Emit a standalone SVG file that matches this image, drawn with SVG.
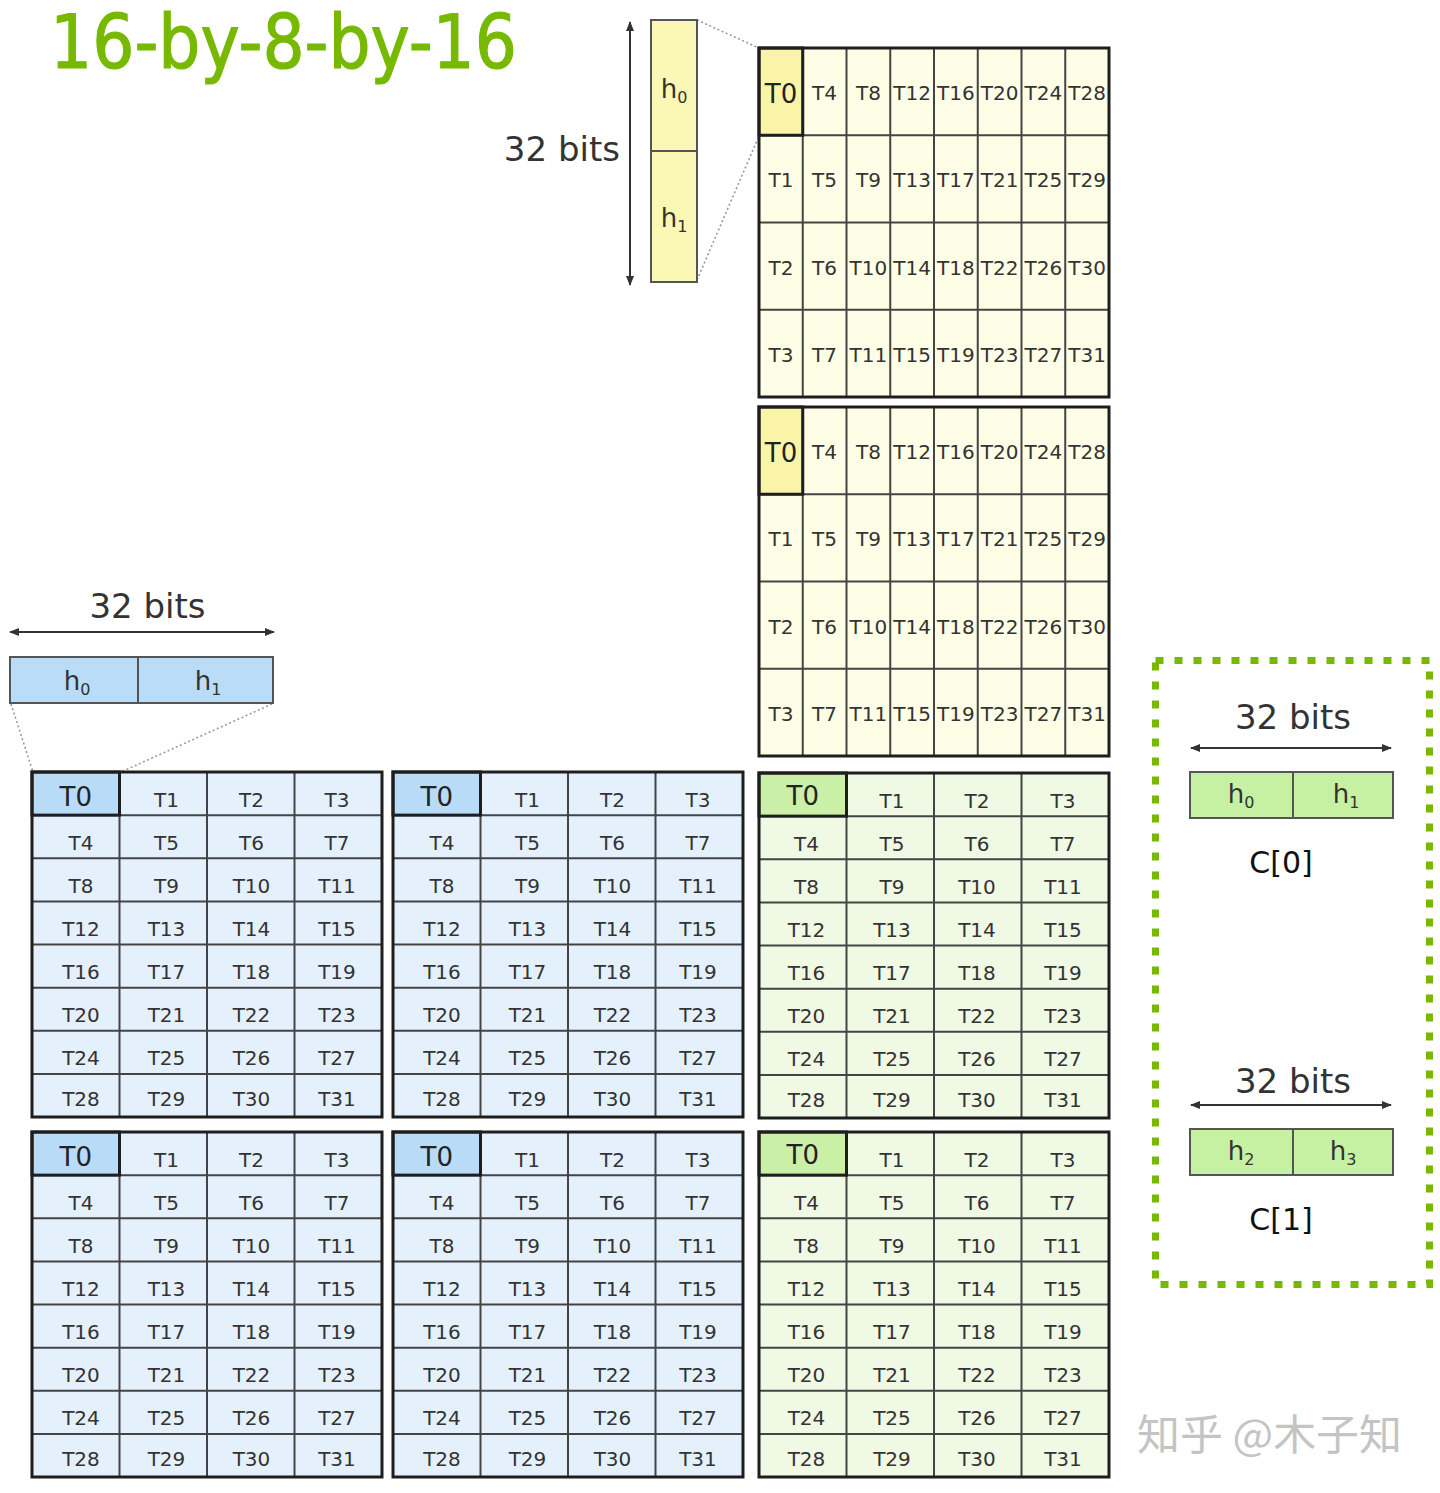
<svg xmlns="http://www.w3.org/2000/svg" xmlns:xlink="http://www.w3.org/1999/xlink" width="1440" height="1493" viewBox="0 0 1440 1493">
<style>
text{font-family:"DejaVu Sans","Liberation Sans",sans-serif;fill:#333}
.t{font-size:20px;text-anchor:middle}
.t0{font-size:26px;text-anchor:middle;fill:#222}
.lbl{font-size:34px}
.h{font-size:26px;text-anchor:middle}
.sub{font-size:16px}
.c{font-size:30px;text-anchor:middle;fill:#111}
.title{font-size:74px;fill:#76b900;stroke:#76b900;stroke-width:1.2}
.wm{font-family:"Noto Sans CJK SC","DejaVu Sans",sans-serif;font-size:42px;fill:#c4c4c4}
.inner{fill:none;stroke:#444;stroke-width:2}
.outer{fill:none;stroke:#1e1e1e;stroke-width:3}
.hiB{fill:none;stroke:#1e1e1e;stroke-width:3}
.by{fill:#fefee6}.hy{fill:#faf4a8}
.bb{fill:#e4f1fc}.hb{fill:#b8dbf7}
.bg{fill:#eff9e4}.hg{fill:#c9f0a6}
.vec{stroke:#555;stroke-width:2}
.dim{stroke:#333;stroke-width:2;fill:none}
.dot{stroke:#9a9a9a;stroke-width:1.6;stroke-dasharray:2 2.5;fill:none}
</style>
<defs>
<marker id="ah" viewBox="0 0 10 8" refX="9" refY="4" markerWidth="10" markerHeight="8" markerUnits="userSpaceOnUse" orient="auto-start-reverse">
<path d="M0,0 L10,4 L0,8 z" fill="#333"/>
</marker>
<path id="ylines" class="inner" d="M43.75,0V349M87.5,0V349M131.25,0V349M175,0V349M218.75,0V349M262.5,0V349M306.25,0V349M0,87.25H350M0,174.5H350M0,261.75H350"/>
<path id="glines" class="inner" d="M87.5,0V345M175,0V345M262.5,0V345M0,43.125H350M0,86.25H350M0,129.375H350M0,172.5H350M0,215.625H350M0,258.75H350M0,301.875H350"/>
</defs>
<rect width="1440" height="1493" fill="#ffffff"/>

<g id="title"><text class="title" x="50" y="68" textLength="467" lengthAdjust="spacingAndGlyphs">16-by-8-by-16</text></g>

<g id="connectors">
<line class="dim" x1="630" y1="22" x2="630" y2="285" marker-start="url(#ah)" marker-end="url(#ah)"/>
<line class="dim" x1="10" y1="632" x2="274" y2="632" marker-start="url(#ah)" marker-end="url(#ah)"/>
<line class="dim" x1="1191" y1="748" x2="1391" y2="748" marker-start="url(#ah)" marker-end="url(#ah)"/>
<line class="dim" x1="1191" y1="1105" x2="1391" y2="1105" marker-start="url(#ah)" marker-end="url(#ah)"/>
<line class="dot" x1="697" y1="20" x2="759" y2="48"/>
<line class="dot" x1="697" y1="280" x2="759" y2="136"/>
<line class="dot" x1="11" y1="704" x2="33" y2="772"/>
<line class="dot" x1="272" y1="704" x2="121" y2="772"/>
</g>

<g id="yellow-vector">
<rect x="651" y="20" width="46" height="262" fill="#fbf7b4" class="vec"/>
<line x1="651" y1="151" x2="697" y2="151" class="vec"/>
<text class="h" x="674" y="98">h<tspan class="sub" dy="5">0</tspan></text>
<text class="h" x="674" y="227">h<tspan class="sub" dy="5">1</tspan></text>
<text class="lbl" x="620" y="161" text-anchor="end">32 bits</text>
</g>

<g id="yellow-grid-1" transform="translate(759,48)">
<rect class="by" width="350" height="349"/>
<rect class="hy" width="43.75" height="87.25"/>
<use xlink:href="#ylines"/>
<rect class="hiB" width="43.75" height="87.25"/>
<rect class="outer" width="350" height="349"/>
<text class="t0" x="22" y="55">T0</text><text class="t" x="65.6" y="52">T4</text><text class="t" x="109.4" y="52">T8</text><text class="t" x="153.1" y="52">T12</text><text class="t" x="196.9" y="52">T16</text><text class="t" x="240.6" y="52">T20</text><text class="t" x="284.4" y="52">T24</text><text class="t" x="328.1" y="52">T28</text>
<text class="t" x="21.9" y="139">T1</text><text class="t" x="65.6" y="139">T5</text><text class="t" x="109.4" y="139">T9</text><text class="t" x="153.1" y="139">T13</text><text class="t" x="196.9" y="139">T17</text><text class="t" x="240.6" y="139">T21</text><text class="t" x="284.4" y="139">T25</text><text class="t" x="328.1" y="139">T29</text>
<text class="t" x="21.9" y="226.5">T2</text><text class="t" x="65.6" y="226.5">T6</text><text class="t" x="109.4" y="226.5">T10</text><text class="t" x="153.1" y="226.5">T14</text><text class="t" x="196.9" y="226.5">T18</text><text class="t" x="240.6" y="226.5">T22</text><text class="t" x="284.4" y="226.5">T26</text><text class="t" x="328.1" y="226.5">T30</text>
<text class="t" x="21.9" y="313.7">T3</text><text class="t" x="65.6" y="313.7">T7</text><text class="t" x="109.4" y="313.7">T11</text><text class="t" x="153.1" y="313.7">T15</text><text class="t" x="196.9" y="313.7">T19</text><text class="t" x="240.6" y="313.7">T23</text><text class="t" x="284.4" y="313.7">T27</text><text class="t" x="328.1" y="313.7">T31</text>
</g>

<g id="yellow-grid-2" transform="translate(759,407)">
<rect class="by" width="350" height="349"/>
<rect class="hy" width="43.75" height="87.25"/>
<use xlink:href="#ylines"/>
<rect class="hiB" width="43.75" height="87.25"/>
<rect class="outer" width="350" height="349"/>
<text class="t0" x="22" y="55">T0</text><text class="t" x="65.6" y="52">T4</text><text class="t" x="109.4" y="52">T8</text><text class="t" x="153.1" y="52">T12</text><text class="t" x="196.9" y="52">T16</text><text class="t" x="240.6" y="52">T20</text><text class="t" x="284.4" y="52">T24</text><text class="t" x="328.1" y="52">T28</text>
<text class="t" x="21.9" y="139">T1</text><text class="t" x="65.6" y="139">T5</text><text class="t" x="109.4" y="139">T9</text><text class="t" x="153.1" y="139">T13</text><text class="t" x="196.9" y="139">T17</text><text class="t" x="240.6" y="139">T21</text><text class="t" x="284.4" y="139">T25</text><text class="t" x="328.1" y="139">T29</text>
<text class="t" x="21.9" y="226.5">T2</text><text class="t" x="65.6" y="226.5">T6</text><text class="t" x="109.4" y="226.5">T10</text><text class="t" x="153.1" y="226.5">T14</text><text class="t" x="196.9" y="226.5">T18</text><text class="t" x="240.6" y="226.5">T22</text><text class="t" x="284.4" y="226.5">T26</text><text class="t" x="328.1" y="226.5">T30</text>
<text class="t" x="21.9" y="313.7">T3</text><text class="t" x="65.6" y="313.7">T7</text><text class="t" x="109.4" y="313.7">T11</text><text class="t" x="153.1" y="313.7">T15</text><text class="t" x="196.9" y="313.7">T19</text><text class="t" x="240.6" y="313.7">T23</text><text class="t" x="284.4" y="313.7">T27</text><text class="t" x="328.1" y="313.7">T31</text>
</g>

<g id="blue-vector">
<rect x="10" y="657" width="263" height="46" fill="#badcf7" class="vec"/>
<line x1="138" y1="657" x2="138" y2="703" class="vec"/>
<text class="h" x="77" y="690">h<tspan class="sub" dy="5">0</tspan></text>
<text class="h" x="208" y="690">h<tspan class="sub" dy="5">1</tspan></text>
<text class="lbl" x="147.5" y="618" text-anchor="middle">32 bits</text>
</g>

<g id="blue-grid-1" transform="translate(32,772)">
<rect class="bb" width="350" height="345"/>
<rect class="hb" width="87.5" height="43.125"/>
<use xlink:href="#glines"/>
<rect class="hiB" width="87.5" height="43.125"/>
<rect class="outer" width="350" height="345"/>
<text class="t0" x="43.75" y="34">T0</text><text class="t" x="134.5" y="34.5">T1</text><text class="t" x="219.5" y="34.5">T2</text><text class="t" x="305" y="34.5">T3</text>
<text class="t" x="49" y="77.6">T4</text><text class="t" x="134.5" y="77.6">T5</text><text class="t" x="219.5" y="77.6">T6</text><text class="t" x="305" y="77.6">T7</text>
<text class="t" x="49" y="120.8">T8</text><text class="t" x="134.5" y="120.8">T9</text><text class="t" x="219.5" y="120.8">T10</text><text class="t" x="305" y="120.8">T11</text>
<text class="t" x="49" y="163.9">T12</text><text class="t" x="134.5" y="163.9">T13</text><text class="t" x="219.5" y="163.9">T14</text><text class="t" x="305" y="163.9">T15</text>
<text class="t" x="49" y="207">T16</text><text class="t" x="134.5" y="207">T17</text><text class="t" x="219.5" y="207">T18</text><text class="t" x="305" y="207">T19</text>
<text class="t" x="49" y="250.1">T20</text><text class="t" x="134.5" y="250.1">T21</text><text class="t" x="219.5" y="250.1">T22</text><text class="t" x="305" y="250.1">T23</text>
<text class="t" x="49" y="293.3">T24</text><text class="t" x="134.5" y="293.3">T25</text><text class="t" x="219.5" y="293.3">T26</text><text class="t" x="305" y="293.3">T27</text>
<text class="t" x="49" y="334">T28</text><text class="t" x="134.5" y="334">T29</text><text class="t" x="219.5" y="334">T30</text><text class="t" x="305" y="334">T31</text>
</g>

<g id="blue-grid-2" transform="translate(393,772)">
<rect class="bb" width="350" height="345"/>
<rect class="hb" width="87.5" height="43.125"/>
<use xlink:href="#glines"/>
<rect class="hiB" width="87.5" height="43.125"/>
<rect class="outer" width="350" height="345"/>
<text class="t0" x="43.75" y="34">T0</text><text class="t" x="134.5" y="34.5">T1</text><text class="t" x="219.5" y="34.5">T2</text><text class="t" x="305" y="34.5">T3</text>
<text class="t" x="49" y="77.6">T4</text><text class="t" x="134.5" y="77.6">T5</text><text class="t" x="219.5" y="77.6">T6</text><text class="t" x="305" y="77.6">T7</text>
<text class="t" x="49" y="120.8">T8</text><text class="t" x="134.5" y="120.8">T9</text><text class="t" x="219.5" y="120.8">T10</text><text class="t" x="305" y="120.8">T11</text>
<text class="t" x="49" y="163.9">T12</text><text class="t" x="134.5" y="163.9">T13</text><text class="t" x="219.5" y="163.9">T14</text><text class="t" x="305" y="163.9">T15</text>
<text class="t" x="49" y="207">T16</text><text class="t" x="134.5" y="207">T17</text><text class="t" x="219.5" y="207">T18</text><text class="t" x="305" y="207">T19</text>
<text class="t" x="49" y="250.1">T20</text><text class="t" x="134.5" y="250.1">T21</text><text class="t" x="219.5" y="250.1">T22</text><text class="t" x="305" y="250.1">T23</text>
<text class="t" x="49" y="293.3">T24</text><text class="t" x="134.5" y="293.3">T25</text><text class="t" x="219.5" y="293.3">T26</text><text class="t" x="305" y="293.3">T27</text>
<text class="t" x="49" y="334">T28</text><text class="t" x="134.5" y="334">T29</text><text class="t" x="219.5" y="334">T30</text><text class="t" x="305" y="334">T31</text>
</g>

<g id="blue-grid-3" transform="translate(32,1132)">
<rect class="bb" width="350" height="345"/>
<rect class="hb" width="87.5" height="43.125"/>
<use xlink:href="#glines"/>
<rect class="hiB" width="87.5" height="43.125"/>
<rect class="outer" width="350" height="345"/>
<text class="t0" x="43.75" y="34">T0</text><text class="t" x="134.5" y="34.5">T1</text><text class="t" x="219.5" y="34.5">T2</text><text class="t" x="305" y="34.5">T3</text>
<text class="t" x="49" y="77.6">T4</text><text class="t" x="134.5" y="77.6">T5</text><text class="t" x="219.5" y="77.6">T6</text><text class="t" x="305" y="77.6">T7</text>
<text class="t" x="49" y="120.8">T8</text><text class="t" x="134.5" y="120.8">T9</text><text class="t" x="219.5" y="120.8">T10</text><text class="t" x="305" y="120.8">T11</text>
<text class="t" x="49" y="163.9">T12</text><text class="t" x="134.5" y="163.9">T13</text><text class="t" x="219.5" y="163.9">T14</text><text class="t" x="305" y="163.9">T15</text>
<text class="t" x="49" y="207">T16</text><text class="t" x="134.5" y="207">T17</text><text class="t" x="219.5" y="207">T18</text><text class="t" x="305" y="207">T19</text>
<text class="t" x="49" y="250.1">T20</text><text class="t" x="134.5" y="250.1">T21</text><text class="t" x="219.5" y="250.1">T22</text><text class="t" x="305" y="250.1">T23</text>
<text class="t" x="49" y="293.3">T24</text><text class="t" x="134.5" y="293.3">T25</text><text class="t" x="219.5" y="293.3">T26</text><text class="t" x="305" y="293.3">T27</text>
<text class="t" x="49" y="334">T28</text><text class="t" x="134.5" y="334">T29</text><text class="t" x="219.5" y="334">T30</text><text class="t" x="305" y="334">T31</text>
</g>

<g id="blue-grid-4" transform="translate(393,1132)">
<rect class="bb" width="350" height="345"/>
<rect class="hb" width="87.5" height="43.125"/>
<use xlink:href="#glines"/>
<rect class="hiB" width="87.5" height="43.125"/>
<rect class="outer" width="350" height="345"/>
<text class="t0" x="43.75" y="34">T0</text><text class="t" x="134.5" y="34.5">T1</text><text class="t" x="219.5" y="34.5">T2</text><text class="t" x="305" y="34.5">T3</text>
<text class="t" x="49" y="77.6">T4</text><text class="t" x="134.5" y="77.6">T5</text><text class="t" x="219.5" y="77.6">T6</text><text class="t" x="305" y="77.6">T7</text>
<text class="t" x="49" y="120.8">T8</text><text class="t" x="134.5" y="120.8">T9</text><text class="t" x="219.5" y="120.8">T10</text><text class="t" x="305" y="120.8">T11</text>
<text class="t" x="49" y="163.9">T12</text><text class="t" x="134.5" y="163.9">T13</text><text class="t" x="219.5" y="163.9">T14</text><text class="t" x="305" y="163.9">T15</text>
<text class="t" x="49" y="207">T16</text><text class="t" x="134.5" y="207">T17</text><text class="t" x="219.5" y="207">T18</text><text class="t" x="305" y="207">T19</text>
<text class="t" x="49" y="250.1">T20</text><text class="t" x="134.5" y="250.1">T21</text><text class="t" x="219.5" y="250.1">T22</text><text class="t" x="305" y="250.1">T23</text>
<text class="t" x="49" y="293.3">T24</text><text class="t" x="134.5" y="293.3">T25</text><text class="t" x="219.5" y="293.3">T26</text><text class="t" x="305" y="293.3">T27</text>
<text class="t" x="49" y="334">T28</text><text class="t" x="134.5" y="334">T29</text><text class="t" x="219.5" y="334">T30</text><text class="t" x="305" y="334">T31</text>
</g>

<g id="green-grid-1" transform="translate(759,773)">
<rect class="bg" width="350" height="345"/>
<rect class="hg" width="87.5" height="43.125"/>
<use xlink:href="#glines"/>
<rect class="hiB" width="87.5" height="43.125"/>
<rect class="outer" width="350" height="345"/>
<text class="t0" x="43.75" y="32">T0</text><text class="t" x="133" y="34.5">T1</text><text class="t" x="218" y="34.5">T2</text><text class="t" x="304" y="34.5">T3</text>
<text class="t" x="47.5" y="77.6">T4</text><text class="t" x="133" y="77.6">T5</text><text class="t" x="218" y="77.6">T6</text><text class="t" x="304" y="77.6">T7</text>
<text class="t" x="47.5" y="120.8">T8</text><text class="t" x="133" y="120.8">T9</text><text class="t" x="218" y="120.8">T10</text><text class="t" x="304" y="120.8">T11</text>
<text class="t" x="47.5" y="163.9">T12</text><text class="t" x="133" y="163.9">T13</text><text class="t" x="218" y="163.9">T14</text><text class="t" x="304" y="163.9">T15</text>
<text class="t" x="47.5" y="207">T16</text><text class="t" x="133" y="207">T17</text><text class="t" x="218" y="207">T18</text><text class="t" x="304" y="207">T19</text>
<text class="t" x="47.5" y="250.1">T20</text><text class="t" x="133" y="250.1">T21</text><text class="t" x="218" y="250.1">T22</text><text class="t" x="304" y="250.1">T23</text>
<text class="t" x="47.5" y="293.3">T24</text><text class="t" x="133" y="293.3">T25</text><text class="t" x="218" y="293.3">T26</text><text class="t" x="304" y="293.3">T27</text>
<text class="t" x="47.5" y="334">T28</text><text class="t" x="133" y="334">T29</text><text class="t" x="218" y="334">T30</text><text class="t" x="304" y="334">T31</text>
</g>

<g id="green-grid-2" transform="translate(759,1132)">
<rect class="bg" width="350" height="345"/>
<rect class="hg" width="87.5" height="43.125"/>
<use xlink:href="#glines"/>
<rect class="hiB" width="87.5" height="43.125"/>
<rect class="outer" width="350" height="345"/>
<text class="t0" x="43.75" y="32">T0</text><text class="t" x="133" y="34.5">T1</text><text class="t" x="218" y="34.5">T2</text><text class="t" x="304" y="34.5">T3</text>
<text class="t" x="47.5" y="77.6">T4</text><text class="t" x="133" y="77.6">T5</text><text class="t" x="218" y="77.6">T6</text><text class="t" x="304" y="77.6">T7</text>
<text class="t" x="47.5" y="120.8">T8</text><text class="t" x="133" y="120.8">T9</text><text class="t" x="218" y="120.8">T10</text><text class="t" x="304" y="120.8">T11</text>
<text class="t" x="47.5" y="163.9">T12</text><text class="t" x="133" y="163.9">T13</text><text class="t" x="218" y="163.9">T14</text><text class="t" x="304" y="163.9">T15</text>
<text class="t" x="47.5" y="207">T16</text><text class="t" x="133" y="207">T17</text><text class="t" x="218" y="207">T18</text><text class="t" x="304" y="207">T19</text>
<text class="t" x="47.5" y="250.1">T20</text><text class="t" x="133" y="250.1">T21</text><text class="t" x="218" y="250.1">T22</text><text class="t" x="304" y="250.1">T23</text>
<text class="t" x="47.5" y="293.3">T24</text><text class="t" x="133" y="293.3">T25</text><text class="t" x="218" y="293.3">T26</text><text class="t" x="304" y="293.3">T27</text>
<text class="t" x="47.5" y="334">T28</text><text class="t" x="133" y="334">T29</text><text class="t" x="218" y="334">T30</text><text class="t" x="304" y="334">T31</text>
</g>

<g id="c-fragments">
<rect x="1155.5" y="660.5" width="274" height="624" fill="none" stroke="#76b900" stroke-width="7" stroke-dasharray="8 11"/>
<text class="lbl" x="1293" y="729" text-anchor="middle">32 bits</text>
<rect x="1190" y="772" width="203" height="46" fill="#c6f0a2" class="vec"/>
<line x1="1293" y1="772" x2="1293" y2="818" class="vec"/>
<text class="h" x="1241" y="803">h<tspan class="sub" dy="5">0</tspan></text>
<text class="h" x="1346" y="803">h<tspan class="sub" dy="5">1</tspan></text>
<text class="c" x="1281" y="873">C[0]</text>
<text class="lbl" x="1293" y="1093" text-anchor="middle">32 bits</text>
<rect x="1190" y="1129" width="203" height="46" fill="#c6f0a2" class="vec"/>
<line x1="1293" y1="1129" x2="1293" y2="1175" class="vec"/>
<text class="h" x="1241" y="1160">h<tspan class="sub" dy="5">2</tspan></text>
<text class="h" x="1343" y="1160">h<tspan class="sub" dy="5">3</tspan></text>
<text class="c" x="1281" y="1230">C[1]</text>
</g>

<g id="watermark"><text class="wm" x="1137" y="1450" textLength="265" lengthAdjust="spacingAndGlyphs">知乎 @木子知</text></g>
</svg>
